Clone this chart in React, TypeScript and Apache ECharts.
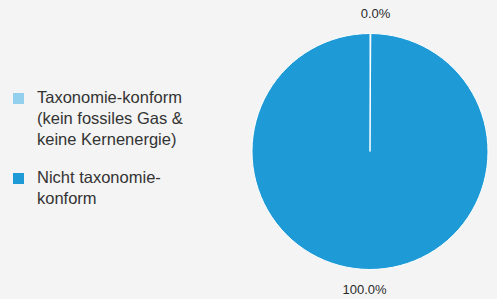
import React, { useEffect, useRef } from "react";
import * as echarts from "echarts";

const categories = [
  "Taxonomie-konform\n(kein fossiles Gas &\nkeine Kernenergie)",
  "Nicht taxonomie-\nkonform",
];
const values = [0, 100];
const colors = ["#93d0ee", "#1e9bd7"];

export default function App() {
  const ref = useRef<HTMLDivElement>(null);
  useEffect(() => {
    if (!ref.current) return;
    const chart = echarts.init(ref.current, undefined, { renderer: "svg" });
    const font = "16.5px 'Liberation Sans', Arial, sans-serif";
    const legendTops = [86, 166];
    const graphics: any[] = [];
    categories.forEach((c, i) => {
      graphics.push({
        type: "rect",
        left: 13,
        top: legendTops[i] + 7,
        shape: { width: 11, height: 11 },
        style: { fill: colors[i] },
      });
      graphics.push({
        type: "text",
        left: 37,
        top: legendTops[i],
        style: {
          text: c,
          font,
          fill: "#333333",
          lineHeight: 21,
        },
      });
    });
    chart.setOption({
      animation: false,
      backgroundColor: "#f4f4f4",
      graphic: graphics,
      series: [
        {
          type: "pie",
          center: [370, 151.5],
          radius: [0, 118],
          startAngle: 90,
          clockwise: true,
          minAngle: 0.4,
          avoidLabelOverlap: false,
          itemStyle: { borderColor: "#ffffff", borderWidth: 1 },
          label: {
            show: true,
            position: "outside",
            color: "#2b2b2b",
            fontSize: 13,
            fontFamily: "'Liberation Sans', Arial, sans-serif",
            formatter: (p: any) => p.percent.toFixed(1) + "%",
          },
          labelLine: { show: false, length: 20, length2: 0 },
          labelLayout: () => ({ align: "center", verticalAlign: "middle" }),
          emphasis: { disabled: true },
          data: categories.map((c, i) => ({
            name: c,
            value: values[i],
            itemStyle: { color: colors[i] },
          })),
        },
      ],
    });
    return () => chart.dispose();
  }, []);
  return (
    <div
      ref={ref}
      style={{ position: "fixed", left: 0, top: 0, width: 497, height: 299 }}
    />
  );
}
